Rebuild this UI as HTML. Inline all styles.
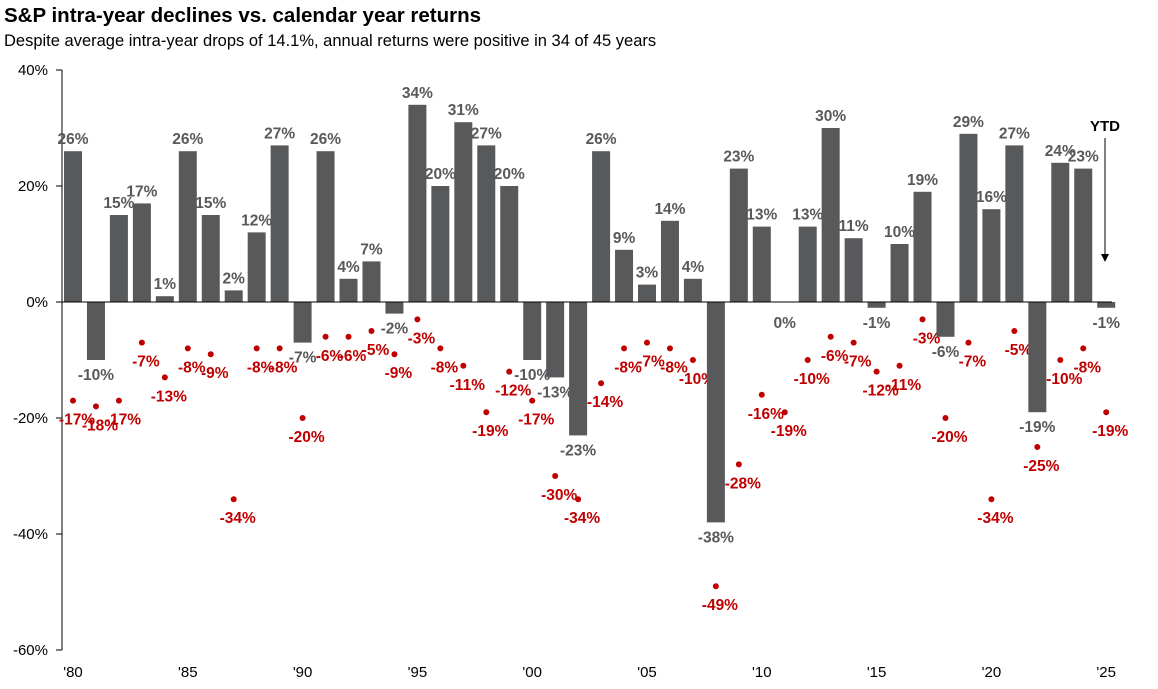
<!DOCTYPE html>
<html><head><meta charset="utf-8"><style>
body{margin:0;background:#fff;width:1158px;height:684px;overflow:hidden;font-family:"Liberation Sans",Arial,sans-serif}
</style></head><body>
<svg width="1158" height="684" xmlns="http://www.w3.org/2000/svg" font-family="Liberation Sans, Arial, sans-serif">
<text x="4" y="22" font-size="20.5" font-weight="bold" fill="#000">S&amp;P intra-year declines vs. calendar year returns</text>
<text x="4" y="46" font-size="16.5" fill="#000">Despite average intra-year drops of 14.1%, annual returns were positive in 34 of 45 years</text>
<g id="g"></g>
</svg>
<script>
const years=[1980,1981,1982,1983,1984,1985,1986,1987,1988,1989,1990,1991,1992,1993,1994,1995,1996,1997,1998,1999,2000,2001,2002,2003,2004,2005,2006,2007,2008,2009,2010,2011,2012,2013,2014,2015,2016,2017,2018,2019,2020,2021,2022,2023,2024,2025];
const returns=[26,-10,15,17,1,26,15,2,12,27,-7,26,4,7,-2,34,20,31,27,20,-10,-13,-23,26,9,3,14,4,-38,23,13,0,13,30,11,-1,10,19,-6,29,16,27,-19,24,23,-1];
const declines=[-17,-18,-17,-7,-13,-8,-9,-34,-8,-8,-20,-6,-6,-5,-9,-3,-8,-11,-19,-12,-17,-30,-34,-14,-8,-7,-8,-10,-49,-28,-16,-19,-10,-6,-7,-12,-11,-3,-20,-7,-34,-5,-25,-10,-8,-19];
const yTicks=[40,20,0,-20,-40,-60];
const xTickYears=[1980,1985,1990,1995,2000,2005,2010,2015,2020,2025];
const NS="http://www.w3.org/2000/svg",g=document.getElementById('g');
const y=v=>302-v*5.8, x=yr=>73+(yr-1980)*22.96;
function mk(t,a,txt){const e=document.createElementNS(NS,t);for(const k in a)e.setAttribute(k,a[k]);if(txt!==undefined)e.textContent=txt;g.appendChild(e);return e;}
let e=mk('line',{x1:62,x2:62,y1:70,y2:650,stroke:'#000','stroke-width':1});


yTicks.forEach(v=>{
 let t=mk('line',{x1:56,x2:62,y1:y(v),y2:y(v),stroke:'#000'});
 
 
 let l=mk('text',{x:48,y:y(v)+5,'text-anchor':'end','font-size':15,fill:'#000'},v+'%');
 
 
});
xTickYears.forEach(yr=>{
 let l=mk('text',{x:x(yr),y:677,'text-anchor':'middle','font-size':15,fill:'#000'},"'"+String(yr).slice(2));
 
 
});
years.forEach((yr,i)=>{
 const v=returns[i],cx=x(yr);
 let b=mk('rect',{x:cx-9,width:18,y:Math.min(y(v),y(0)),height:Math.max(Math.abs(y(v)-y(0)),0.5),fill:'#58595b'});
 
 
 let ly=v>=0?y(v)-7:y(v)+20;
 if(v===0)ly=y(0)+26;
 let l=mk('text',{x:cx,y:ly,'text-anchor':'middle','font-size':15.5,'font-weight':'bold',fill:'#58595b'},v+'%');
 
 
 const d=declines[i];
 let c=mk('circle',{cx:cx,cy:y(d),r:3,fill:'#c00000'});
 
 
 let dl=mk('text',{x:cx+4,y:y(d)+24,'text-anchor':'middle','font-size':15.5,'font-weight':'bold',fill:'#c00000'},d+'%');
 
 
});
e=mk('line',{x1:62,x2:1112,y1:y(0),y2:y(0),stroke:'#000','stroke-width':1});


e=mk('text',{x:1105,y:131,'text-anchor':'middle','font-size':15,'font-weight':'bold',fill:'#000'},'YTD');


e=mk('line',{x1:1105,x2:1105,y1:138,y2:256,stroke:'#000','stroke-width':1});


e=mk('polygon',{points:'1101,254 1109,254 1105,262',fill:'#000'});


</script>
</body></html>
